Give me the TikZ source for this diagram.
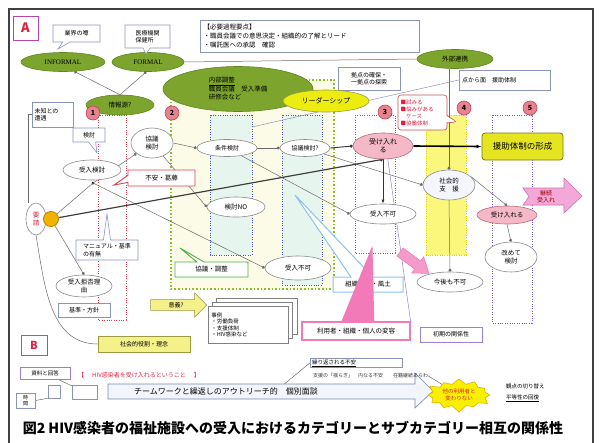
\documentclass[tikz,border=0pt]{standalone}
\usepackage{fontspec}
\setmainfont{Noto Sans CJK JP}
\newfontfamily\lserif{Liberation Serif}
\usetikzlibrary{shapes.geometric,shapes.callouts,shapes.arrows,shapes.symbols,arrows.meta}
\definecolor{gfill}{HTML}{7DA52D}
\definecolor{gline}{HTML}{5E8520}
\definecolor{ovline}{HTML}{8A8A8A}
\definecolor{pinkfill}{HTML}{F4B8C6}
\definecolor{pinkline}{HTML}{B07080}
\definecolor{numfill}{HTML}{E8828F}
\definecolor{numline}{HTML}{C04458}
\definecolor{bxline}{HTML}{8A94B8}
\definecolor{lnc}{HTML}{6A6A6A}
\definecolor{reg2fill}{HTML}{FBFBE8}
\definecolor{reg2line}{HTML}{8CC020}
\definecolor{mint}{HTML}{E6F6EE}
\definecolor{bdot}{HTML}{4A56D0}
\definecolor{rdot}{HTML}{E04050}
\definecolor{vdot}{HTML}{7A5AD8}
\definecolor{yreg}{HTML}{FAF77C}
\definecolor{ydot}{HTML}{E4D400}
\definecolor{leadfill}{HTML}{ECEC10}
\definecolor{enjofill}{HTML}{E4E420}
\definecolor{enjoline}{HTML}{7A7A10}
\definecolor{kpink}{HTML}{F3A8D8}
\definecolor{kpinkline}{HTML}{D070B0}
\definecolor{hpink}{HTML}{F27AB8}
\definecolor{lblue}{HTML}{88C4F0}
\definecolor{redtxt}{HTML}{E02040}
\definecolor{magb}{HTML}{B848A8}
\definecolor{framec}{HTML}{404040}
\definecolor{sunfill}{HTML}{F0B400}
\definecolor{sunline}{HTML}{C88000}
\definecolor{yellowbox}{HTML}{F4F08A}
\definecolor{yellowboxline}{HTML}{9A9A40}
\definecolor{arrfill}{HTML}{F2F6FC}
\definecolor{arrline}{HTML}{7A88A8}
\definecolor{starfill}{HTML}{F8F000}
\definecolor{starline}{HTML}{E0B000}
\definecolor{purpb}{HTML}{9A80D0}
\definecolor{greenb}{HTML}{50B040}
\newcommand\ftsz[2]{\fontsize{#1}{#2}\selectfont}
\pgfdeclarelayer{bgl}
\pgfdeclarelayer{lnl}
\pgfsetlayers{bgl,lnl,main}
\begin{document}
\begin{tikzpicture}[x=1pt,y=-1pt,
 sz/.style 2 args={minimum width=#1pt,minimum height=#2pt},
 ov/.style={ellipse, draw=ovline, line width=0.6pt, fill=white, inner sep=0pt, align=center, font=\ftsz{6.5}{7.5}},
 gov/.style={ellipse, draw=gline, line width=0.6pt, fill=gfill, inner sep=0pt, align=center, font=\ftsz{6.5}{7.5}},
 pov/.style={ov, fill=pinkfill, draw=pinkline},
 numc/.style={circle, draw=numline, fill=numfill, line width=0.6pt, minimum size=14pt, inner sep=0pt, font=\ftsz{7}{7}\bfseries},
 bx/.style={rectangle, draw=bxline, line width=0.6pt, fill=white, inner sep=1.5pt, align=left, font=\ftsz{6}{7.5}},
 cl/.style={rectangle callout, draw=bxline, line width=0.6pt, fill=white, inner sep=1.5pt, align=center, font=\ftsz{6}{7.5}},
 conn/.style={draw=lnc, line width=0.5pt},
 dconn/.style={conn, -{Circle[length=3pt]}},
 rdots/.style={line width=0.9pt, dash pattern=on 1pt off 1.4pt}
]
\useasboundingbox (0,0) rectangle (601,442);
\draw[framec, line width=1.6pt] (9,460) -- (9,9) -- (593,9) -- (593,460);

% ---------- regions ----------
\begin{pgfonlayer}{bgl}
\fill[reg2fill] (171,80) rectangle (334,289);
\draw[reg2line, line width=1.6pt, dash pattern=on 1.6pt off 2pt] (171,80) rectangle (334,289);
\draw[bdot, fill=mint, rdots] (210,115) rectangle (252,255);
\draw[bdot, fill=mint, rdots] (282,115) rectangle (322,285);
\draw[rdot, rdots] (98,115) rectangle (126,320);
\draw[rdot, rdots] (355,115) rectangle (395,253);
\fill[yreg] (426,115) rectangle (466,255);
\draw[ydot, rdots] (426,115) rectangle (466,255);
\draw[vdot, rdots] (492,115) rectangle (532,323);
\end{pgfonlayer}

% ---------- nodes : A ----------
\node[bx, draw=magb, line width=0.8pt, sz={25}{24}, font=\ftsz{13}{13}\bfseries, text=redtxt, align=center] (Abox) at (25.5,28) {A};
\node[gov, sz={84}{19}, font=\lserif\ftsz{7}{7}] (informal) at (63,62) {INFORMAL};
\node[gov, sz={72}{19}, font=\lserif\ftsz{7}{7}] (formal) at (148,62) {FORMAL};
\node[cl, sz={47}{17}, callout absolute pointer={(58,49)}] (uwasa) at (76.5,33.5) {業界の噂};
\node[cl, sz={45}{23}, callout absolute pointer={(146,54)}, align=left] (iryou) at (147.5,36.5) {医療機関\\保健所};
\node[gov, sz={68}{20}] (kachi) at (120,105) {情報源?};
\node[bx, sz={41}{25}, text width=36pt] (michi) at (52.5,114.5) {未知との\\遭遇};
\node[cl, sz={32}{14}, callout absolute pointer={(97,153)}] (kentoucl) at (89,135) {検討};
\node[ov, sz={58}{20}] (ukekentou) at (92,170) {受入検討};
\coordinate (c0) at (93,183);
\node[ov, sz={20}{32}, text=redtxt] (yousei) at (36,219) {要\\請};
\node[circle, fill=sunfill, draw=sunline, line width=0.9pt, minimum size=15pt, inner sep=0pt] (sun) at (51,219) {};
\node[cl, draw=rdot, line width=0.9pt, sz={67}{16}, callout absolute pointer={(114,185)}, font=\ftsz{6.5}{6.5}] (fuan) at (161.5,178) {不安・葛藤};
\node[cl, sz={62}{20}, callout absolute pointer={(107,214)}, align=left] (manual) at (107,250) {マニュアル・基準\\の有無};
\node[ov, sz={56}{22}] (kyohi) at (84,286) {受入拒否理\\由};
\node[bx, sz={52}{14}, align=center] (kijun) at (84,310) {基準・方針};
\node[bx, fill=yellowbox, draw=yellowboxline, sz={92}{16}, align=center] (shakai) at (144,344) {社会的役割・理念};
\node[single arrow, fill=yellowbox, draw=yellowboxline, line width=0.6pt, minimum height=56pt, minimum width=24pt, single arrow head extend=5pt, inner sep=1pt, font=\ftsz{6}{6}] (igi) at (176,305) {意義?};
\draw[fill=white, draw=gray] (216,298) rectangle (297,334);
\draw[fill=white, draw=gray] (212,302) rectangle (292,338);
\node[bx, draw=gray, sz={80}{37}, text width=74pt, font=\ftsz{5.5}{6.6}, anchor=north west] (jirei) at (208,306) {事例\\・労働負荷\\・支援体制\\・HIV感染など};

\node[numc] (n1) at (93,113) {1};
\node[gov, sz={150}{45}, align=left, font=\ftsz{6.5}{8.5}] (naibu) at (238,89) {\underline{内部調整}\\職員会議　受入準備\\研修会など};
\node[numc] (n2) at (172,113) {2};
\node[bx, sz={219}{32}, text width=212pt, font=\ftsz{6.5}{9}] (hitsuyou) at (309.5,36) {【必要過程要点】\\・職員会議での意思決定・組織的の了解とリード\\・嘱託医への承認　確認};
\node[gov, sz={76}{19}] (gaibu) at (455,59) {外部連携};
\node[bx, sz={91}{20}, text width=85pt] (tenkara) at (504.5,80) {点から面　援助体制};
\node[bx, sz={62}{23}, text width=56pt, align=center] (kyoten) at (369,78.5) {拠点の確保・\\一拠点の探索};
\node[ellipse, fill=leadfill, draw=yellowboxline, line width=0.6pt, sz={86}{22}, inner sep=0pt, font=\ftsz{7}{7}] (leader) at (326,101) {リーダーシップ};
\node[rectangle callout, rounded corners=3pt, draw=rdot!70!gray, fill=white, line width=0.6pt, sz={49}{35}, callout absolute pointer={(457,122)}, text width=44pt, align=left, inner sep=1.5pt, font=\ftsz{5.5}{7}, text=redtxt] (redcall) at (422.5,112.5) {■試みる\\■悩みがある\\　ケース\\■協働体制};
\node[numc] (n3) at (385,112) {3};
\node[numc] (n4) at (464,108) {4};
\node[numc] (n5) at (530,108) {5};

\node[ov, sz={42}{30}] (kyougi1) at (152,143) {協議\\検討};
\node[ov, sz={60}{17}, font=\ftsz{6}{6}] (jouken) at (227,148) {条件検討};
\node[ov, sz={50}{17}, font=\ftsz{6}{6}] (kyougi2) at (305,148) {協議検討?};
\node[pov, sz={60}{26}, font=\ftsz{7}{8}] (uke3) at (383,146) {受け入れ\\る};
\node[rectangle, rounded corners=3pt, fill=enjofill, draw=enjoline, line width=0.8pt, sz={81}{27}, font=\ftsz{8.5}{8.5}] (enjo) at (522.5,146.5) {援助体制の形成};
\node[ov, sz={58}{20}] (kno) at (236,207) {検討NO};
\node[ov, sz={66}{24}] (fuka2) at (298,268) {受入不可};
\node[ov, sz={66}{20}] (fuka3) at (383,214) {受入不可};
\node[ov, fill=blue!4, sz={52}{30}] (shien) at (449,185) {社会的\\支　援};
\node[ov, sz={66}{20}] (kongo) at (450,282) {今後も不可};
\node[pov, sz={60}{18}] (uke5) at (507,215) {受け入れる};
\node[ov, sz={52}{30}] (aratame) at (511,257) {改めて\\検討};
\draw[fill=kpink, draw=kpinkline, line width=0.6pt] (523,188) -- (564,188) -- (564,178) -- (582,196) -- (564,213) -- (564,205) -- (523,205) -- (529,196.5) -- cycle;
\node[font=\ftsz{6}{7.5}, text=red!60!black, align=center] (keizoku) at (546,196.5) {継続\\受入れ};
\draw[fill=hpink!75, draw=hpink, line width=0.6pt] (403,248) -- (420.7,261) -- (423.6,256.9) -- (429,273.3) -- (411.8,273.1) -- (414.7,269) -- (397,256) -- cycle;
\node[cl, draw=greenb, line width=0.9pt, sz={73}{15}, callout absolute pointer={(180,248)}, font=\ftsz{6.5}{6.5}] (kchousei) at (211.5,269.5) {協議・調整};
\node[rectangle callout, draw=lblue, line width=1pt, fill=white, sz={70}{15}, callout absolute pointer={(295,195)}, callout pointer width=22pt, font=\ftsz{6.5}{6.5}] (soshiki) at (368,284.5) {組織文化・風土};
\node[rectangle callout, fill=hpink, draw=hpink, line width=1pt, sz={108}{18}, callout absolute pointer={(372,248)}, callout pointer width=32pt] (henyoutail) at (356,331) {};
\node[rectangle, draw=hpink, line width=1.2pt, fill=white, sz={108}{18}, font=\ftsz{6.5}{6.5}] (henyou) at (356,331) {利用者・組織・個人の変容};
\node[bx, draw=purpb, sz={62}{15}, align=center] (shoki) at (451,334.5) {初期の関係性};

% ---------- B ----------
\node[bx, draw=magb, line width=0.8pt, sz={26}{20}, font=\ftsz{11}{11}\bfseries, text=redtxt, align=center] (Bbox) at (34,345) {B};
\node[bx, draw=purpb, sz={50}{12}, font=\ftsz{5.5}{5.5}, align=center] (shiryou) at (45,373) {資料と回答};
\node[anchor=west, text=redtxt, font=\ftsz{6}{6}, inner sep=0pt] (hivtxt) at (78,375) {【\hspace{8pt}HIV感染者を受け入れるということ\hspace{8pt}】};
\node[bx, sz={12}{13}] (sb1) at (54,391.5) {};
\node[bx, sz={25}{14}] (sb2) at (84.5,392) {};
\node[bx, sz={19}{15}, font=\ftsz{5}{5.5}, align=center] (jikan) at (25.5,400.5) {時\\間};
\draw[fill=arrfill, draw=arrline, line width=0.6pt] (108,384) -- (415,384) -- (415,373) -- (433,391) -- (415,408) -- (415,399) -- (108,399) -- cycle;
\node[font=\ftsz{8}{8}, inner sep=0pt] (team) at (226,391.5) {チームワークと繰返しのアウトリーチ的　個別面談};
\node[bx, sz={92}{9}, text width=88pt, inner sep=1pt, font=\ftsz{5.5}{5.5}] (kuri) at (356,363) {\underline{繰り返される不安}};
\node[anchor=west, font=\ftsz{5}{5}, text=gray!40!black, inner sep=0pt] (yuragi) at (313,376) {支援の「揺らぎ」　内なる不安　　在籍継続あらわ};
\node[starburst, fill=starfill, draw=starline, line width=0.6pt, minimum width=68pt, minimum height=36pt, starburst points=12, starburst point height=7pt, inner sep=0pt, font=\ftsz{5.5}{6.5}, text=redtxt, align=center] (star) at (459,395) {他の利用者と\\変わりない};
\node[anchor=west, font=\ftsz{5.5}{5.5}, inner sep=0pt] (kanten) at (506,386) {観点の切り替え};
\node[anchor=west, font=\ftsz{5.5}{5.5}, inner sep=0pt] (byoudou) at (506,398) {\underline{平等性の回復}};
\node[font=\ftsz{14}{14}\bfseries, inner sep=0pt] (cap) at (293,428) {図2\ HIV感染者の福祉施設への受入におけるカテゴリーとサブカテゴリー相互の関係性};

% ---------- connectors ----------
\coordinate (p2a) at (252,127);
\coordinate (tp) at (282,386);
\begin{pgfonlayer}{lnl}
\draw[conn, {Circle[length=3pt]}-] (informal.-40) -- (kachi.north);
\draw[conn, {Circle[length=3pt]}-] (formal.-100) -- (kachi.north);
\draw[conn] (formal.east) -- (gaibu.west);
\draw[dconn] (gaibu.south -| shien.north) -- (shien.north);
\draw[conn, draw=bxline] (p2a) -- (tenkara.west);
\draw[dconn] (kyougi1.east) -- (jouken.west);
\draw[dconn] (jouken.east) -- (kyougi2.west);
\draw[dconn, line width=0.9pt, draw=black!80] (kyougi2.east) -- (uke3.west);
\draw[-{Latex[length=5pt]}, line width=1.6pt, draw=black] (uke3.east) -- (enjo.west);
\fill[black] (c0) circle (1.5pt);
\draw[conn] (c0) -- (sun);
\draw[dconn] (c0) -- (kyougi1);
\draw[dconn] (c0) -- (fuka2.west);
\draw[dconn] (kyougi1) -- (kno.west);
\draw[dconn] (jouken) -- (fuka3.west);
\draw[dconn] (kyougi2) -- (shien.west);
\draw[dconn] (sun) -- (kyohi.north);
\draw[line width=1.2pt, draw=black!75, -{Circle[length=3.5pt]}] (sun) -- (uke3.south);
\draw[-{Latex[length=4pt]}, line width=1pt, draw=black!80] (uke3.south) -- (fuka3.north);
\draw[conn] (yousei.south) to[out=-80, in=180] (shakai.west);
\draw[conn] (michi.west) -| ([xshift=-8pt]yousei.north);
\draw[dconn] (shien.20) -- (uke5.north);
\draw[dconn] (uke5.south) -- (aratame.north);
\draw[dconn] (shien.south) -- (kongo.north);
\draw[conn, draw=purpb] (uke3.-70) -- (henyou.north east);
\draw[conn] (jikan.east) -- (sb1.south west);
\draw[conn] (shiryou) -- (sb2);
\draw[conn] (tp) -- (kuri.west);
\draw[conn] (yuragi.east) -- (star);
\end{pgfonlayer}
\end{tikzpicture}
\end{document}
